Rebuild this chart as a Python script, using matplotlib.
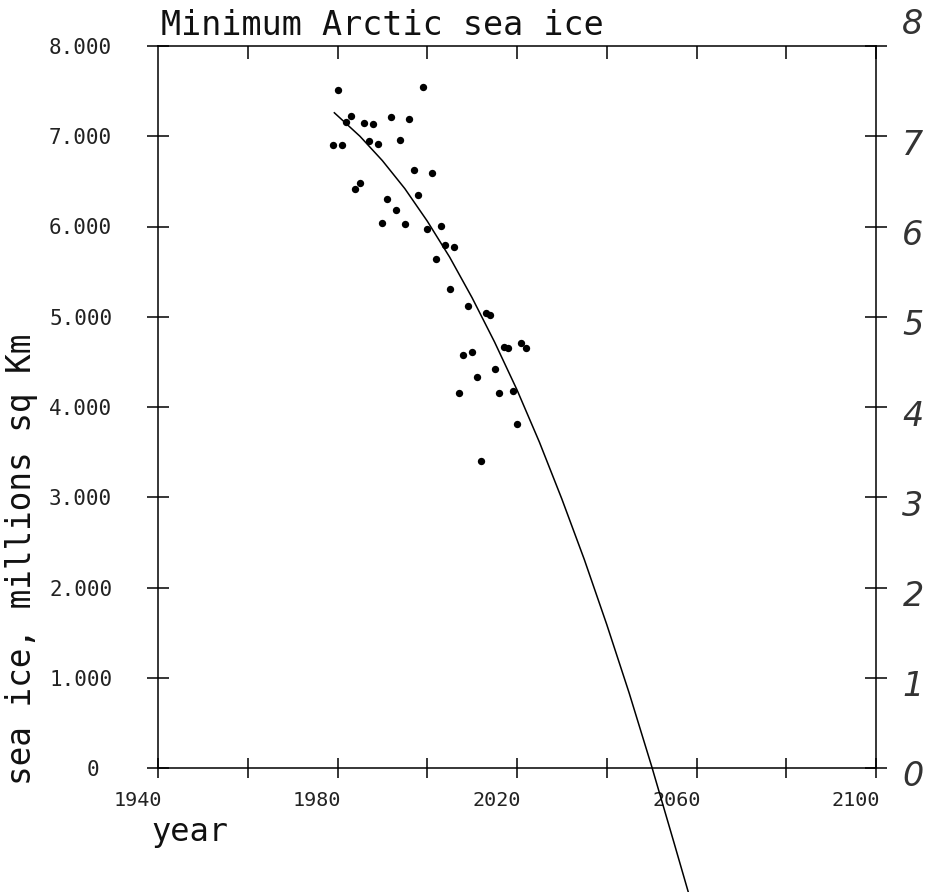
import numpy as np
import matplotlib
matplotlib.use("Agg")
import matplotlib.pyplot as plt
from matplotlib import transforms

# ---- data ----
years = list(range(1979, 2023))
ice = [6.90, 7.51, 6.90, 7.16, 7.22, 6.42, 6.48, 7.15, 6.95, 7.14, 6.91,
       6.04, 6.30, 7.21, 6.18, 6.96, 6.03, 7.19, 6.63, 6.35, 7.55,
       5.97, 6.59, 5.64, 6.01, 5.79, 5.31, 5.77, 4.16, 4.58, 5.12,
       4.61, 4.33, 3.40, 5.04, 5.02, 4.42, 4.16, 4.66, 4.65, 4.18,
       3.81, 4.71, 4.65]

# trend curve, points
curve_years = [1979.3, 1985, 1990, 1995, 2000, 2005, 2010, 2015, 2020,
               2025, 2030, 2035, 2040, 2045, 2050, 2055, 2058.2]
curve_vals = [7.26, 7.00, 6.73, 6.42, 6.06, 5.66, 5.21, 4.72, 4.19,
              3.61, 2.98, 2.31, 1.59, 0.83, 0.02, -0.83, -1.38]

x_ticks = list(range(1940, 2101, 20))
x_labels = ["1940", "", "1980", "", "2020", "", "2060", "", "2100"]
y_ticks = list(range(0, 9))
y_labels_left = ["0 ", "1.000", "2.000", "3.000", "4.000", "5.000",
                 "6.000", "7.000", "8.000"]
y_labels_right = ["0", "1", "2", "3", "4", "5", "6", "7", "8"]

title = "Minimum Arctic sea ice"
xlabel = "year"
ylabel = "sea ice, millions sq Km"

# ---- figure ----
W, H = 930, 892
fig = plt.figure(figsize=(W / 100, H / 100), dpi=100)
L, R, B, T = 158, 876, 768, 46
ax = fig.add_axes([L / W, (H - B) / H, (R - L) / W, (B - T) / H])
ax.set_xlim(1940, 2100)
ax.set_ylim(0, 8)

mono = "DejaVu Sans Mono"
for s in ax.spines.values():
    s.set_linewidth(1.1)
    s.set_color("black")

ax.scatter(years, ice, s=28, color="black", zorder=3, linewidths=0)
ax.plot(curve_years, curve_vals, color="black", lw=1.1, clip_on=False, zorder=3)

# bottom ticks
ax.set_xticks(x_ticks)
ax.set_xticklabels(x_labels, fontfamily=mono, fontsize=14.5, color="#222222")
ax.tick_params(axis="x", which="major", direction="inout", length=15, width=1.1,
               pad=9, bottom=True, top=False)
off = transforms.ScaledTranslation(4 / 100, 0, fig.dpi_scale_trans)
for lab in ax.get_xticklabels():
    lab.set_ha("right")
    lab.set_transform(lab.get_transform() + off)

# left ticks
ax.set_yticks(y_ticks)
ax.set_yticklabels(y_labels_left, fontfamily=mono, fontsize=15, color="#222222")
ax.tick_params(axis="y", which="major", direction="inout", length=16, width=1.1,
               pad=25, left=True, right=False)

# top ticks (inward)
axt = ax.secondary_xaxis("top")
axt.set_xticks(x_ticks[1:])
axt.tick_params(direction="in", length=9, width=1.1, labeltop=False)
axt.spines["top"].set_visible(False)

# right ticks crossing the spine
axr = ax.secondary_yaxis("right")
axr.set_yticks(y_ticks)
axr.tick_params(direction="inout", length=16, width=1.1, labelright=False)
axr.spines["right"].set_visible(False)

# handwritten-looking right labels
blend = transforms.blended_transform_factory(ax.transAxes, ax.transData)
for v, lab in zip(y_ticks, y_labels_right):
    dy = -9 if v < 8 else 22
    t = blend + transforms.ScaledTranslation(37 / 100, dy / 100, fig.dpi_scale_trans)
    ax.text(1.0, v, lab, transform=t, ha="center", va="center", fontsize=24,
            fontstyle="italic", fontweight="light", family="DejaVu Sans",
            color="#333333")

# title and axis labels
ax.text(0.004, 1.015, title, transform=ax.transAxes, ha="left", va="baseline",
        fontfamily=mono, fontsize=24, color="#111111")
ax.text((190 - L) / (R - L), (B - 832) / (B - T), xlabel, transform=ax.transAxes,
        ha="center", va="center", fontfamily=mono, fontsize=23, color="#111111")
ax.text((22 - L) / (R - L), (B - 559) / (B - T), ylabel, transform=ax.transAxes,
        ha="center", va="center", rotation=90, fontfamily=mono, fontsize=23.5,
        color="#111111")

fig.savefig("out.png", dpi=100)
